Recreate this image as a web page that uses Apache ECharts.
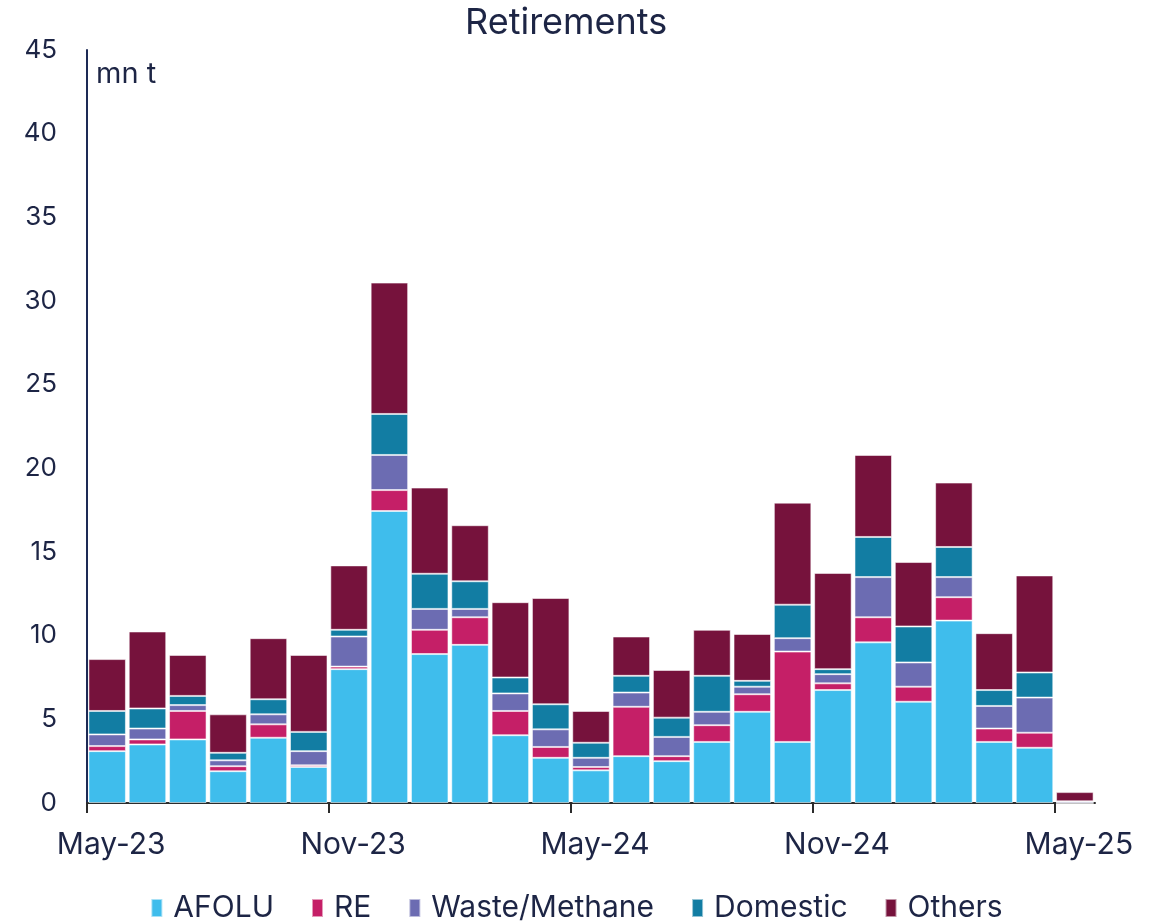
<!DOCTYPE html>
<html>
<head>
<meta charset="utf-8">
<script src="https://cdn.jsdelivr.net/npm/echarts@6/dist/echarts.min.js"></script>
<style>
  html, body { margin: 0; padding: 0; background: #fff; }
  #chart { width: 1153px; height: 922px; }
</style>
</head>
<body>
<div id="chart"></div>
<script>
// months May-23 .. May-25
const months = ['May-23', 'Jun-23', 'Jul-23', 'Aug-23', 'Sep-23', 'Oct-23', 'Nov-23', 'Dec-23', 'Jan-24', 'Feb-24', 'Mar-24', 'Apr-24',
  'May-24', 'Jun-24', 'Jul-24', 'Aug-24', 'Sep-24', 'Oct-24', 'Nov-24', 'Dec-24', 'Jan-25', 'Feb-25', 'Mar-25', 'Apr-25', 'May-25'];

const afolu    = [3.1, 3.5, 3.8, 1.9, 3.9, 2.15, 8.0, 17.45, 8.9, 9.45, 4.05, 2.7, 1.95, 2.8, 2.5, 3.65, 5.45, 3.65, 6.75, 9.6, 6.05, 10.9, 3.65, 3.3, 0];
const re       = [0.3, 0.3, 1.7, 0.3, 0.8, 0.1, 0.15, 1.25, 1.45, 1.65, 1.45, 0.65, 0.2, 2.95, 0.3, 1.0, 1.05, 5.4, 0.4, 1.5, 0.9, 1.4, 0.8, 0.9, 0];
const waste    = [0.7, 0.65, 0.35, 0.35, 0.6, 0.85, 1.8, 2.1, 1.25, 0.5, 1.05, 1.05, 0.55, 0.85, 1.15, 0.8, 0.45, 0.8, 0.55, 2.4, 1.45, 1.2, 1.35, 2.1, 0.1];
const domestic = [1.4, 1.2, 0.55, 0.45, 0.9, 1.15, 0.4, 2.45, 2.1, 1.65, 0.95, 1.5, 0.9, 1.0, 1.15, 2.15, 0.35, 2.0, 0.3, 2.4, 2.15, 1.8, 0.95, 1.5, 0];
const others   = [3.1, 4.6, 2.45, 2.3, 3.65, 4.6, 3.85, 7.85, 5.15, 3.35, 4.5, 6.35, 1.9, 2.35, 2.85, 2.75, 2.8, 6.1, 5.75, 4.9, 3.85, 3.85, 3.4, 5.8, 0.55];

const yTicks = [0, 5, 10, 15, 20, 25, 30, 35, 40, 45];
const tickIdx = [0, 6, 12, 18, 24]; // tick marks on the bar boundaries
const labelIdx = tickIdx.map((i) => i + 0.6); // labels roughly on the month's bar

const textColor = '#1d2545';
const fontFam = 'Inter, "Noto Sans", sans-serif';

const myChart = echarts.init(document.getElementById('chart'));

const mkSeries = (name, data, color) => ({
  type: 'bar',
  name: name,
  stack: 'total',
  data: data,
  xAxisIndex: 0,
  barCategoryGap: '7%',
  itemStyle: { color: color, borderColor: 'rgba(255,255,255,0.55)', borderWidth: 1 },
  emphasis: { disabled: true },
});

const option = {
  animation: false,
  textStyle: { fontFamily: fontFam },
  title: {
    text: 'Retirements',
    left: 460,
    top: 0,
    textStyle: { color: textColor, fontSize: 36, fontWeight: 'normal', fontFamily: fontFam },
  },
  graphic: [
    { type: 'text', left: 96, top: 60, style: { text: 'mn t', fill: textColor, fontSize: 29, fontFamily: fontFam } },
  ],
  legend: {
    top: 888,
    left: 'center',
    itemWidth: 11,
    itemHeight: 18,
    itemGap: 37,
    icon: 'rect',
    textStyle: { color: textColor, fontSize: 30, fontFamily: fontFam, padding: [0, 0, 0, 6] },
  },
  grid: { left: 87, right: 58, top: 50, bottom: 119 },
  xAxis: [
    {
      type: 'category',
      data: months,
      axisLine: { show: true, lineStyle: { color: '#2b2b2b', width: 2 } },
      axisTick: { show: false },
      axisLabel: { show: false },
    },
    {
      type: 'value',
      min: 0,
      max: months.length,
      position: 'bottom',
      axisLine: { show: false },
      splitLine: { show: false },
      axisTick: { show: true, customValues: tickIdx, length: 10, lineStyle: { color: '#2b2b2b', width: 2 } },
      axisLabel: {
        customValues: labelIdx,
        margin: 27,
        color: textColor,
        fontSize: 30,
        fontFamily: fontFam,
        formatter: (v) => months[Math.floor(v)] || '',
      },
    },
  ],
  yAxis: {
    type: 'value',
    min: 0,
    max: 45,
    interval: 5,
    axisLine: { show: true, lineStyle: { color: '#1d2a55', width: 2 } },
    axisTick: { show: false },
    splitLine: { show: false },
    axisLabel: {
      color: textColor,
      fontSize: 26,
      fontFamily: fontFam,
      margin: 30,
      customValues: yTicks,
    },
  },
  series: [
    mkSeries('AFOLU', afolu, '#3fbdec'),
    mkSeries('RE', re, '#c51f67'),
    mkSeries('Waste/Methane', waste, '#6c6cb2'),
    mkSeries('Domestic', domestic, '#127da3'),
    mkSeries('Others', others, '#76123c'),
  ],
};

myChart.setOption(option);
</script>
</body>
</html>
